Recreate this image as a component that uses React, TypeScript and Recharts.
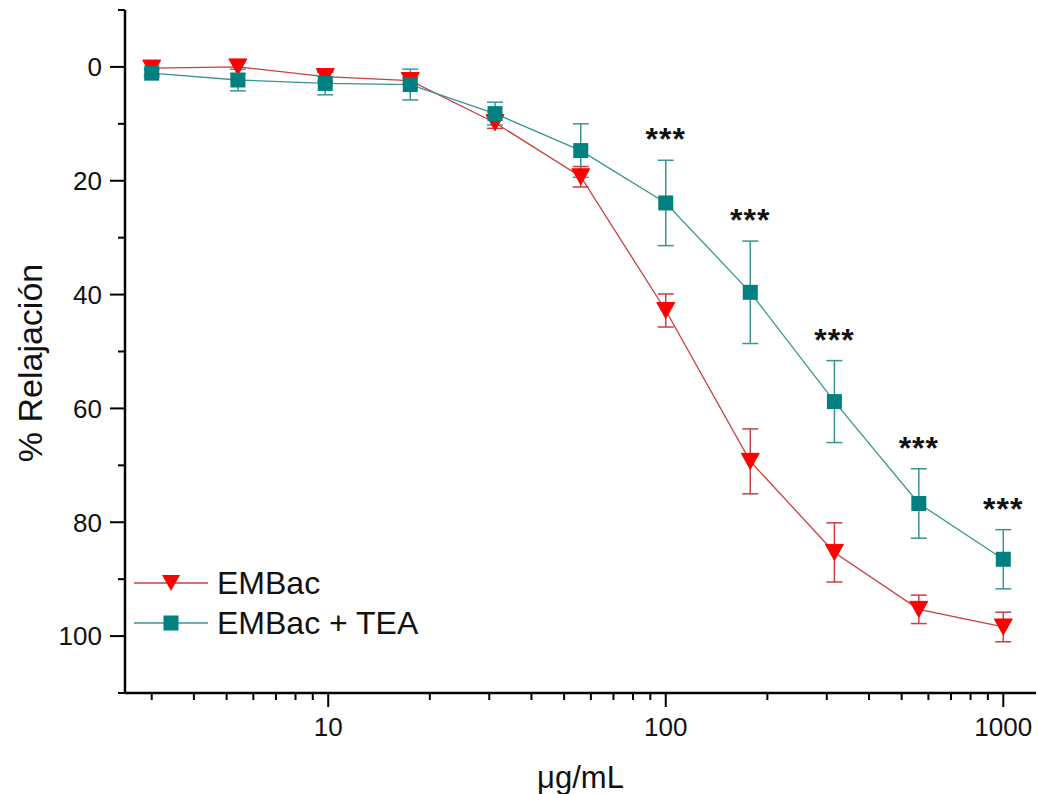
import React from 'react';
import {
  ComposedChart,
  Line,
  Scatter,
  XAxis,
  YAxis,
  ErrorBar,
  Legend,
  Label,
} from 'recharts';

// concentrations (µg/mL)
const doses = [3, 5.4, 9.8, 17.5, 31.2, 56, 100, 178, 316, 562, 1000];

// EMBac (red triangles)
const embac = [0.2, 0, 1.7, 2.4, 9.8, 19.3, 42.8, 69.3, 85.3, 95.3, 98.4];
const embacErr = [1.2, 1.2, 0.8, 0.5, 1.0, 1.8, 2.9, 5.7, 5.2, 2.5, 2.6];

// EMBac + TEA (teal squares)
const embacTea = [1.1, 2.3, 2.9, 3.1, 8.2, 14.7, 23.9, 39.6, 58.8, 76.7, 86.5];
const embacTeaErr = [0.7, 1.9, 2.0, 2.7, 2.0, 4.7, 7.5, 9.0, 7.2, 6.1, 5.2];

const signif = ['', '', '', '', '', '', '***', '***', '***', '***', '***'];

const xTicks = [3, 4, 5, 6, 7, 8, 9, 10, 20, 30, 40, 50, 60, 70, 80, 90, 100, 200, 300, 400, 500, 600, 700, 800, 900, 1000];
const xMajor = [10, 100, 1000];
const yTicks = [-10, 0, 10, 20, 30, 40, 50, 60, 70, 80, 90, 100, 110];
const yLabeled = [0, 20, 40, 60, 80, 100];

const RED = '#ff0000';
const RED_LINE = '#c94040';
const TEAL = '#008080';
const TEAL_LINE = '#3a9494';
const FONT = 'Arial, "Liberation Sans", sans-serif';

const data = doses.map((x, i) => ({
  x,
  red: embac[i],
  redErr: embacErr[i],
  teal: embacTea[i],
  tealErr: embacTeaErr[i],
}));

const stars = doses
  .map((x, i) => ({ x, y: embacTea[i] - embacTeaErr[i], label: signif[i] }))
  .filter((d) => d.label);

const Triangle = (props: any) => {
  const { cx, cy, index } = props;
  if (cx == null || cy == null) return <g key={`t-${index}`} />;
  return (
    <path
      key={`t-${index}`}
      d={`M${cx - 9},${cy - 8} L${cx + 9},${cy - 8} L${cx},${cy + 8} Z`}
      fill={RED}
      stroke={RED}
      strokeWidth={1}
    />
  );
};

const Square = (props: any) => {
  const { cx, cy, index } = props;
  if (cx == null || cy == null) return <g key={`s-${index}`} />;
  return <rect key={`s-${index}`} x={cx - 7.5} y={cy - 7.5} width={15} height={15} fill={TEAL} />;
};

const XTick = (props: any) => {
  const { x, y, payload } = props;
  const major = xMajor.includes(payload.value);
  return (
    <g>
      <line x1={x} x2={x} y1={y} y2={y + (major ? 14 : 7)} stroke="#000" strokeWidth={2} />
      {major && (
        <text x={x} y={y + 43} textAnchor="middle" fontSize={26} fontFamily={FONT} fill="#111">
          {payload.value}
        </text>
      )}
    </g>
  );
};

const YTick = (props: any) => {
  const { x, y, payload } = props;
  const major = yLabeled.includes(payload.value);
  return (
    <g>
      <line x1={x - (major ? 15 : 7)} x2={x} y1={y} y2={y} stroke="#000" strokeWidth={2} />
      {major && (
        <text x={x - 23} y={y} dy="0.36em" textAnchor="end" fontSize={26} fontFamily={FONT} fill="#111">
          {payload.value}
        </text>
      )}
    </g>
  );
};

const StarShape = (props: any) => {
  const { cx, cy, payload } = props;
  return (
    <text
      x={cx}
      y={cy - 10}
      textAnchor="middle"
      fontSize={32}
      fontWeight="bold"
      fontFamily={FONT}
      letterSpacing={1}
      fill="#111"
    >
      {payload.label}
    </text>
  );
};

const LegendBox = () => {
  const rows = [
    { name: 'EMBac', line: RED_LINE, kind: 'tri' },
    { name: 'EMBac + TEA', line: TEAL_LINE, kind: 'sq' },
  ];
  return (
    <div style={{ fontFamily: FONT, fontSize: 32, color: '#111' }}>
      {rows.map((r) => (
        <div key={r.name} style={{ display: 'flex', alignItems: 'center', height: 40 }}>
          <svg width={74} height={24} style={{ marginRight: 9 }}>
            <line x1={0} x2={74} y1={12} y2={12} stroke={r.line} strokeWidth={1.3} />
            {r.kind === 'tri' ? (
              <path d="M28,4 L46,4 L37,20 Z" fill={RED} />
            ) : (
              <rect x={29.5} y={4.5} width={15} height={15} fill={TEAL} />
            )}
          </svg>
          <span>{r.name}</span>
        </div>
      ))}
    </div>
  );
};

export default function App() {
  return (
    <div style={{ position: 'absolute', left: 0, top: 0, width: 1038, height: 794, background: '#fff' }}>
      <ComposedChart width={1038} height={794} data={data} margin={{ top: 10, right: 2, bottom: 0, left: 0 }}>
        <XAxis
          dataKey="x"
          type="number"
          scale="log"
          domain={[2.5, 1250]}
          allowDataOverflow
          ticks={xTicks}
          interval={0}
          tickSize={0}
          tickMargin={0}
          tickLine={false}
          tick={XTick}
          height={101}
          axisLine={{ stroke: '#000', strokeWidth: 2.5 }}
        >
          <Label
            value="μg/mL"
            position="insideBottom"
            offset={6}
            style={{ fontSize: 31, fontFamily: FONT, fill: '#111' }}
          />
        </XAxis>
        <YAxis
          type="number"
          reversed
          domain={[-10, 110]}
          ticks={yTicks}
          interval={0}
          width={125}
          tickSize={0}
          tickMargin={0}
          tickLine={false}
          tick={YTick}
          axisLine={{ stroke: '#000', strokeWidth: 2.5 }}
        >
          <Label
            content={() => (
              <text
                x={30}
                y={363}
                transform="rotate(-90, 30, 363)"
                textAnchor="middle"
                dominantBaseline="central"
                fontSize={34}
                fontFamily={FONT}
                fill="#111"
              >
                % Relajación
              </text>
            )}
          />
        </YAxis>
        <Legend
          layout="vertical"
          align="center"
          verticalAlign="middle"
          content={LegendBox}
          wrapperStyle={{ left: 134, top: 563, width: 340, height: 80 }}
        />
        <Line
          dataKey="red"
          stroke={RED_LINE}
          strokeWidth={1.3}
          dot={Triangle}
          activeDot={false}
          isAnimationActive={false}
          type="linear"
        >
          <ErrorBar dataKey="redErr" direction="y" width={8} stroke={RED_LINE} strokeWidth={1.5} isAnimationActive={false} />
        </Line>
        <Line
          dataKey="teal"
          stroke={TEAL_LINE}
          strokeWidth={1.3}
          dot={Square}
          activeDot={false}
          isAnimationActive={false}
          type="linear"
        >
          <ErrorBar dataKey="tealErr" direction="y" width={8} stroke={TEAL_LINE} strokeWidth={1.5} isAnimationActive={false} />
        </Line>
        <Scatter data={stars} dataKey="y" shape={StarShape} isAnimationActive={false} legendType="none" />
      </ComposedChart>
    </div>
  );
}
